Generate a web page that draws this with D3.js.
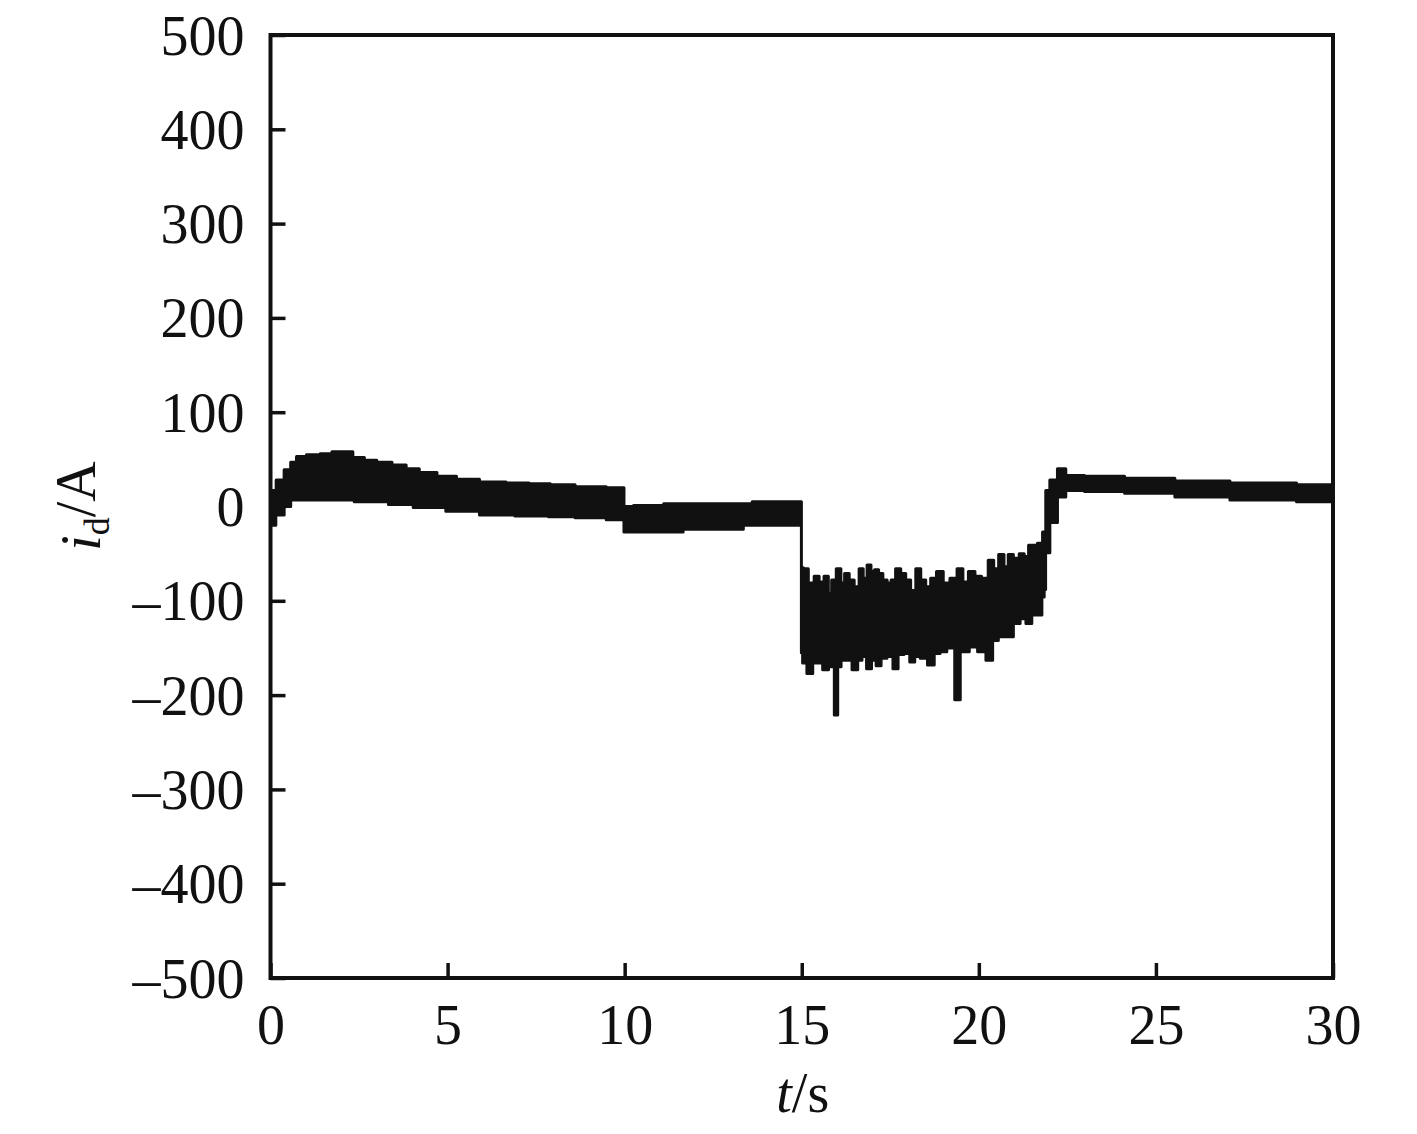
<!DOCTYPE html>
<html lang="en">
<head>
<meta charset="utf-8">
<script src="https://d3js.org/d3.v7.min.js"></script>
<style>
  body { margin: 0; background: #fff; }
  svg text { font-family: "Liberation Serif", "Times New Roman", serif; fill: #111; }
</style>
</head>
<body>
<div id="chart"></div>
<script>
// tick values
var xTicks = [0, 5, 10, 15, 20, 25, 30];
var yTicks = [-500, -400, -300, -200, -100, 0, 100, 200, 300, 400, 500];

// upper envelope of the i_d band, [t (s), value (A)]
var upper = [
  [0, 8], [0.05, 17], [0.27, 28], [0.5, 39], [0.64, 47], [0.83, 53], [1.2, 55], [1.6, 56],
  [1.87, 58], [2.15, 58], [2.5, 52], [2.8, 49], [3.2, 47], [3.66, 44], [4.0, 40], [4.4, 36],
  [5.0, 32], [5.5, 29], [6.3, 26], [7.0, 25], [7.6, 24], [8.2, 23], [9.0, 21], [9.96, 20],
  [10.0, 0], [10.5, 1], [11.7, 3], [13.0, 3], [14.2, 5], [14.98, 5],
  [15.0, -65], [15.09, -66], [15.28, -81], [15.42, -74], [15.56, -80], [15.70, -74], [15.80, -92],
  [15.89, -78], [16.06, -66], [16.15, -81], [16.27, -71], [16.41, -78], [16.55, -85], [16.69, -66],
  [16.78, -76], [16.91, -62], [17.0, -69], [17.11, -67], [17.23, -71], [17.35, -78], [17.47, -81],
  [17.58, -78], [17.72, -66], [17.87, -71], [18.0, -78], [18.15, -89], [18.29, -66], [18.43, -78],
  [18.57, -85], [18.71, -76], [18.9, -69], [19.09, -81], [19.28, -76], [19.49, -66], [19.61, -80],
  [19.8, -69], [19.98, -74], [20.17, -76], [20.36, -57], [20.48, -66], [20.64, -51], [20.78, -64],
  [20.88, -51], [21.07, -55], [21.21, -50], [21.35, -53], [21.46, -41], [21.58, -41], [21.73, -39],
  [21.87, -27], [21.91, 17], [22.1, 28], [22.34, 40], [22.57, 33], [23.4, 32], [24.83, 30],
  [26.24, 27], [27.94, 25], [30, 23]
];

// lower envelope of the i_d band
var lower = [
  [0, -10], [0.03, -20], [0.27, -9], [0.5, 0], [0.64, 7], [2.33, 7], [2.4, 5], [3.0, 5],
  [3.66, 2], [4.4, -1], [5.5, -5], [6.3, -9], [7.5, -10], [8.2, -11], [9.0, -12], [9.96, -14],
  [10.0, -27], [11.6, -27], [11.7, -24], [13.3, -24], [13.4, -20], [14.98, -20],
  [15.0, -155], [15.05, -166], [15.24, -177], [15.38, -166], [15.52, -166], [15.66, -173],
  [15.85, -170], [15.99, -221], [16.04, -170], [16.18, -163], [16.33, -163], [16.51, -173],
  [16.65, -163], [16.75, -159], [16.91, -172], [17.03, -163], [17.17, -169], [17.31, -161],
  [17.5, -159], [17.65, -172], [17.79, -157], [17.98, -156], [18.12, -165], [18.26, -159],
  [18.43, -161], [18.67, -168], [18.81, -156], [19.0, -154], [19.19, -150], [19.45, -205],
  [19.5, -154], [19.61, -154], [19.85, -149], [20.08, -154], [20.32, -163], [20.46, -142],
  [20.64, -138], [20.88, -138], [21.07, -124], [21.26, -119], [21.4, -124], [21.59, -115],
  [21.73, -115], [21.83, -96], [21.86, -88], [21.91, -49], [22.1, -17], [22.34, 10],
  [22.57, 17], [23.4, 16], [24.83, 14], [26.24, 10], [27.94, 7], [30, 5]
];

var width = 1417, height = 1134;
var plotLeft = 270.5, plotRight = 1333, plotTop = 35, plotBottom = 978;

var svg = d3.select("#chart").append("svg")
    .attr("width", width)
    .attr("height", height);

var x = d3.scaleLinear().domain([0, 30]).range([plotLeft, plotRight]);
var y = d3.scaleLinear().domain([-500, 500]).range([plotBottom, plotTop]);

// signal band
var band = upper.concat(lower.slice().reverse());
var line = d3.line()
    .x(function(d) { return x(d[0]); })
    .y(function(d) { return y(d[1]); })
    .curve(d3.curveStep);

svg.append("path")
    .attr("d", line(band) + "Z")
    .attr("fill", "#111")
    .attr("stroke", "#111")
    .attr("stroke-width", 3)
    .attr("stroke-linejoin", "round");

// axes, ticks pointing inward
var yAxis = d3.axisLeft(y).tickValues(yTicks).tickSize(-15).tickSizeOuter(0)
    .tickFormat(function(d) { return d < 0 ? "\u2013" + Math.abs(d) : d; });
var xAxis = d3.axisBottom(x).tickValues(xTicks).tickSize(-15).tickSizeOuter(0);

var gy = svg.append("g").attr("transform", "translate(" + plotLeft + ",0)").call(yAxis);
gy.selectAll("text").attr("x", -26).attr("dy", "0.34em").style("font-size", "56px");

var gx = svg.append("g").attr("transform", "translate(0," + plotBottom + ")").call(xAxis);
gx.selectAll("text").attr("y", 26).attr("dy", "0.71em").style("font-size", "56px");

svg.selectAll(".domain").remove();
svg.selectAll(".tick line").attr("stroke", "#111").attr("stroke-width", 3.5);
svg.selectAll(".tick text").attr("fill", "#111");

// frame
svg.append("rect")
    .attr("x", plotLeft).attr("y", plotTop)
    .attr("width", plotRight - plotLeft).attr("height", plotBottom - plotTop)
    .attr("fill", "none")
    .attr("stroke", "#111")
    .attr("stroke-width", 4);

// axis titles
var xt = svg.append("text")
    .attr("x", (plotLeft + plotRight) / 2 + 1)
    .attr("y", 1112)
    .attr("text-anchor", "middle")
    .style("font-size", "56px");
xt.append("tspan").style("font-style", "italic").text("t");
xt.append("tspan").text("/s");

var yt = svg.append("text")
    .attr("transform", "translate(100," + 506 + ") rotate(-90)")
    .attr("text-anchor", "middle")
    .style("font-size", "56px");
yt.append("tspan").style("font-style", "italic").text("i");
yt.append("tspan").attr("dy", "0.25em").style("font-size", "36px").text("d");
yt.append("tspan").attr("dy", "-0.25em").text("/A");
</script>
</body>
</html>
